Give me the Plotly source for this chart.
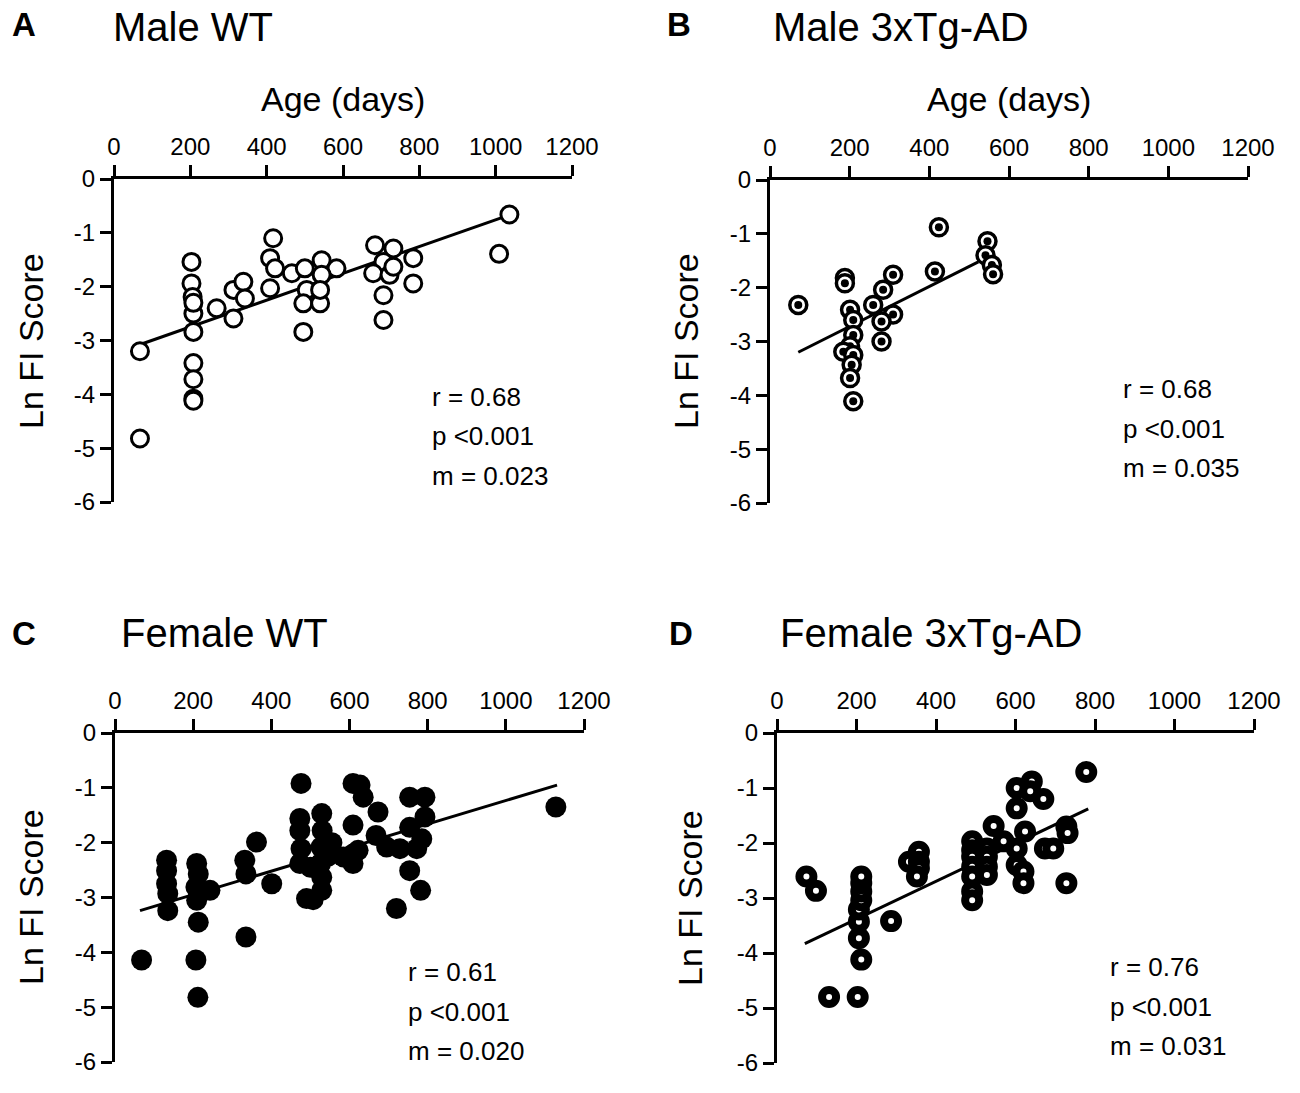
import plotly.graph_objects as go

W, H = 1300, 1093

# ---------------- data ----------------
x_tick_vals = [0, 200, 400, 600, 800, 1000, 1200]
x_tick_text = ["0", "200", "400", "600", "800", "1000", "1200"]
y_tick_vals = [0, -1, -2, -3, -4, -5, -6]
y_tick_text = ["0", "-1", "-2", "-3", "-4", "-5", "-6"]

panel_letters = ["A", "B", "C", "D"]
panel_titles = ["Male WT", "Male 3xTg-AD", "Female WT", "Female 3xTg-AD"]
x_axis_title = "Age (days)"
y_axis_title = "Ln FI Score"
stats_r = ["r = 0.68", "r = 0.68", "r = 0.61", "r = 0.76"]
stats_p = ["p <0.001", "p <0.001", "p <0.001", "p <0.001"]
stats_m = ["m = 0.023", "m = 0.035", "m = 0.020", "m = 0.031"]

# Panel A: Male WT
a_age = [68, 68, 203, 203, 206, 208, 208, 208, 208, 208, 208, 208,
         269, 313, 339, 343, 313,
         417, 409, 422, 409, 466, 500, 505, 496, 544, 540, 583, 496, 544, 540,
         684, 732, 706, 679, 722, 732, 706, 706, 784, 784,
         1036, 1009]
a_lnfi = [-3.20, -4.82, -1.54, -1.94, -2.19, -2.50, -2.84, -3.42, -3.72, -4.08, -4.12, -2.30,
          -2.40, -2.06, -1.91, -2.22, -2.59,
          -1.10, -1.47, -1.66, -2.03, -1.75, -1.66, -2.06, -2.31, -1.51, -2.31, -1.66, -2.84, -1.78, -2.06,
          -1.23, -1.29, -1.54, -1.75, -1.78, -1.63, -2.16, -2.62, -1.47, -1.94,
          -0.66, -1.39]
a_fit_x = [50, 1035]
a_fit_y = [-3.12, -0.67]

# Panel B: Male 3xTg-AD
b_age = [71, 424, 414, 546, 541, 557, 560,
         188, 188, 309, 284, 259, 309, 280, 280,
         201, 209, 209, 201, 184, 209, 205, 201, 209]
b_lnfi = [-2.32, -0.88, -1.70, -1.14, -1.40, -1.58, -1.75,
          -1.82, -1.92, -1.76, -2.04, -2.32, -2.50, -2.63, -3.00,
          -2.41, -2.60, -2.88, -3.09, -3.19, -3.25, -3.43, -3.68, -4.11]
b_fit_x = [71, 523]
b_fit_y = [-3.20, -1.52]

# Panel C: Female WT
c_age = [68, 207, 212, 213, 335, 401, 362, 332, 335,
         132, 132, 132, 135, 135,
         209, 213, 207, 209, 243,
         476, 473, 473, 476, 473,
         529, 530, 527, 526, 529, 529, 490, 507,
         545, 500, 555, 610,
         609, 627, 635, 609, 609, 622, 584,
         673, 668, 695, 729,
         754, 793, 793, 754, 785, 772, 754, 782, 720, 1128]
c_lnfi = [-4.14, -4.14, -4.82, -3.45, -3.72, -2.75, -1.99, -2.32, -2.57,
          -2.32, -2.51, -2.75, -2.93, -3.24,
          -2.38, -2.57, -2.81, -3.05, -2.87,
          -0.92, -1.56, -1.78, -2.11, -2.38,
          -1.47, -1.78, -2.08, -2.38, -2.63, -2.87, -3.02, -3.04,
          -2.25, -2.45, -2.00, -2.20,
          -0.92, -0.95, -1.17, -1.68, -2.38, -2.14, -2.26,
          -1.44, -1.87, -2.08, -2.11,
          -1.17, -1.17, -1.53, -1.72, -1.93, -2.11, -2.51, -2.87, -3.20, -1.35]
c_fit_x = [64, 1131]
c_fit_y = [-3.24, -0.95]

# Panel D: Female 3xTg-AD
d_age = [74, 98, 131, 203,
         212, 206, 206, 206, 212, 212, 212, 212,
         287, 332, 357, 357, 357, 352,
         491, 491, 491, 491, 491, 491, 491,
         528, 528, 528, 528,
         545, 570,
         603, 603, 641, 637, 670,
         624, 603, 603, 620, 620,
         674, 695, 728, 731, 728, 778]
d_lnfi = [-2.61, -2.87, -4.80, -4.80,
          -4.12, -3.73, -3.43, -3.21, -3.04, -2.88, -2.73, -2.61,
          -3.42, -2.34, -2.16, -2.34, -2.46, -2.61,
          -1.97, -2.13, -2.25, -2.43, -2.61, -2.88, -3.04,
          -2.10, -2.25, -2.43, -2.58,
          -1.69, -1.97,
          -1.00, -1.37, -0.88, -1.06, -1.20,
          -1.79, -2.10, -2.40, -2.52, -2.73,
          -2.10, -2.10, -1.70, -1.82, -2.73, -0.71]
d_fit_x = [70, 783]
d_fit_y = [-3.83, -1.38]

# ---------------- layout helpers (screen-pixel boxes of plotting areas) ----------------
boxes = [  # x0, x1, ytop, ybottom
    (114, 572, 179, 502),
    (770, 1248, 180, 503),
    (115, 584, 733, 1062),
    (777, 1254, 733, 1063),
]

def px(x):
    return x / W

def py(y):
    return 1 - y / H

FONT = "Liberation Sans, Arial, Helvetica, sans-serif"

fig = go.Figure()

axis_names = [("x", "y"), ("x2", "y2"), ("x3", "y3"), ("x4", "y4")]
fits = [(a_fit_x, a_fit_y), (b_fit_x, b_fit_y), (c_fit_x, c_fit_y), (d_fit_x, d_fit_y)]

# regression lines first (under markers)
for (xa, ya), (fx, fy) in zip(axis_names, fits):
    fig.add_trace(go.Scatter(x=fx, y=fy, mode="lines", xaxis=xa, yaxis=ya,
                             line=dict(color="black", width=3), showlegend=False,
                             hoverinfo="skip"))

# Panel A: open circles
fig.add_trace(go.Scatter(x=a_age, y=a_lnfi, mode="markers", xaxis="x", yaxis="y",
                         marker=dict(symbol="circle", size=17, color="white", opacity=1,
                                     line=dict(color="black", width=3)),
                         showlegend=False))

# Panel B: open circle with central dot (interleaved ring + dot per point)
b_x, b_y, b_size, b_col, b_lw = [], [], [], [], []
for xv, yv in zip(b_age, b_lnfi):
    b_x += [xv, xv]
    b_y += [yv, yv]
    b_size += [17, 8]
    b_col += ["white", "black"]
    b_lw += [3.5, 0]
fig.add_trace(go.Scatter(x=b_x, y=b_y, mode="markers", xaxis="x2", yaxis="y2",
                         marker=dict(symbol="circle", size=b_size, color=b_col, opacity=1,
                                     line=dict(color="black", width=b_lw)),
                         showlegend=False))

# Panel C: filled circles
fig.add_trace(go.Scatter(x=c_age, y=c_lnfi, mode="markers", xaxis="x3", yaxis="y3",
                         marker=dict(symbol="circle", size=21, color="black", opacity=1,
                                     line=dict(width=0)),
                         showlegend=False))

# Panel D: thick rings with small white centre
fig.add_trace(go.Scatter(x=d_age, y=d_lnfi, mode="markers", xaxis="x4", yaxis="y4",
                         marker=dict(symbol="circle", size=14, color="white", opacity=1,
                                     line=dict(color="black", width=8)),
                         showlegend=False))

layout = dict(width=W, height=H, autosize=False,
              margin=dict(l=0, r=0, t=0, b=0, pad=0),
              paper_bgcolor="white", plot_bgcolor="white",
              font=dict(family=FONT, color="black"), showlegend=False)

for i, (x0, x1, yt, yb) in enumerate(boxes):
    sfx = "" if i == 0 else str(i + 1)
    layout["xaxis" + sfx] = dict(
        domain=[px(x0), px(x1)], range=[0, 1200], side="top",
        anchor="y" + sfx, tickvals=x_tick_vals, ticktext=x_tick_text,
        ticks="outside", ticklen=11, tickwidth=3, tickcolor="black",
        showline=True, linewidth=3, linecolor="black", automargin=False,
        showgrid=False, zeroline=False, fixedrange=True,
        tickfont=dict(family=FONT, size=24, color="black"))
    layout["yaxis" + sfx] = dict(
        domain=[py(yb), py(yt)], range=[-6, 0],
        anchor="x" + sfx, tickvals=y_tick_vals, ticktext=y_tick_text,
        ticks="outside", ticklen=11, tickwidth=3, tickcolor="black",
        showline=True, linewidth=3, linecolor="black", automargin=False,
        showgrid=False, zeroline=False, fixedrange=True,
        tickfont=dict(family=FONT, size=24, color="black"))

fig.update_layout(**layout)

# ---------------- text annotations ----------------
letter_pos = [(10, 25), (665, 25), (10, 633), (667, 633)]
title_pos = [(111, 27), (771, 27), (119, 633), (778, 633)]
ylabel_pos = [(31, 341), (686, 341), (31, 897), (690, 898)]
xlabel_pos = [(343, 99), (1009, 99)]
stats_pos = [(430, 397), (1121, 389), (406, 972), (1108, 967)]
line_gap = 39.5

for i in range(4):
    lx, ly = letter_pos[i]
    fig.add_annotation(x=px(lx), y=py(ly), xref="paper", yref="paper",
                       text="<b>" + panel_letters[i] + "</b>", showarrow=False,
                       xanchor="left", yanchor="middle",
                       font=dict(family=FONT, size=33, color="black"))
    tx, ty = title_pos[i]
    fig.add_annotation(x=px(tx), y=py(ty), xref="paper", yref="paper",
                       text=panel_titles[i], showarrow=False,
                       xanchor="left", yanchor="middle",
                       font=dict(family=FONT, size=40, color="black"))
    yx, yy = ylabel_pos[i]
    fig.add_annotation(x=px(yx), y=py(yy), xref="paper", yref="paper",
                       text=y_axis_title, showarrow=False, textangle=-90,
                       xanchor="center", yanchor="middle",
                       font=dict(family=FONT, size=34, color="black"))
    sx, sy = stats_pos[i]
    for k, t in enumerate([stats_r[i], stats_p[i], stats_m[i]]):
        fig.add_annotation(x=px(sx), y=py(sy + k * line_gap), xref="paper", yref="paper",
                           text=t, showarrow=False, xanchor="left", yanchor="middle",
                           font=dict(family=FONT, size=26, color="black"))

for (xx, xy) in xlabel_pos:
    fig.add_annotation(x=px(xx), y=py(xy), xref="paper", yref="paper",
                       text=x_axis_title, showarrow=False,
                       xanchor="center", yanchor="middle",
                       font=dict(family=FONT, size=34, color="black"))

# remove the default page margin so the figure fills the 1300x1093 window exactly
fig.write_html("out.html",
               config={"displayModeBar": False},
               post_script="document.body.style.margin='0';document.body.style.overflow='hidden';")
